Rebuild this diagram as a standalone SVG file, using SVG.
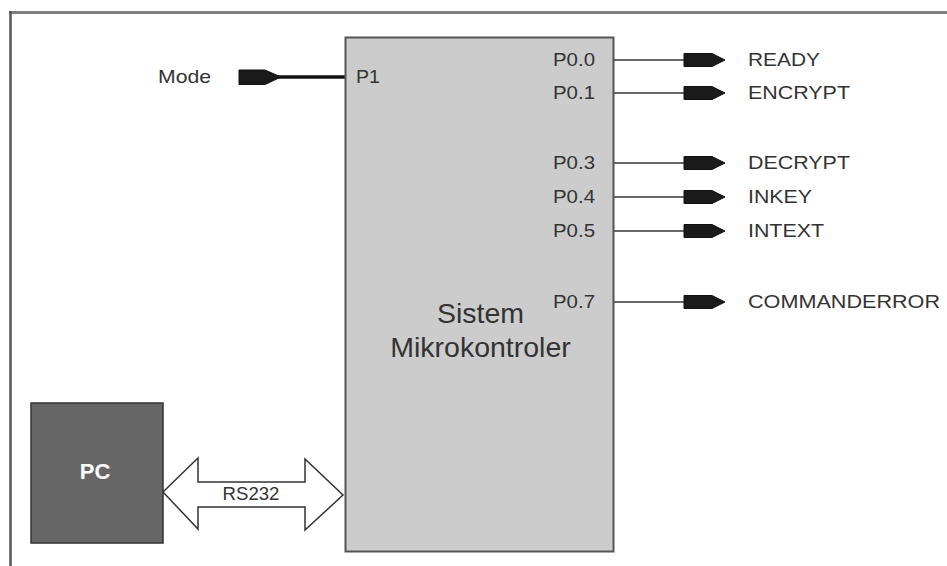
<svg xmlns="http://www.w3.org/2000/svg" width="947" height="566" viewBox="0 0 947 566">
<style>
text{font-family:"Liberation Sans",Arial,sans-serif;fill:#333;}
.pin{font-size:19px;}
.sig{font-size:19px;}
.wire{stroke:#333;stroke-width:1.5;fill:none;}
.tag{fill:#1a1a1a;stroke:#111;stroke-width:1;}
</style>
<defs>
<path id="tagR" d="M0,-6.5 H28 L41,0 L28,6.5 H0 Z"/>
</defs>
<rect width="947" height="566" fill="#fff"/>
<g id="frame">
<line x1="9" y1="12.5" x2="947" y2="12.5" stroke="#808080" stroke-width="3"/>
<line x1="10.5" y1="11" x2="10.5" y2="566" stroke="#555" stroke-width="2.5"/>
</g>
<g id="connectors">
<g id="mode-conn">
<line x1="278" y1="77" x2="346" y2="77" stroke="#111" stroke-width="3.5"/>
<path class="tag" d="M239,70 H265 L281,77 L265,84.5 H239 Z"/>
</g>
<g id="out-ready"><line class="wire" x1="614" y1="60" x2="684" y2="60"/><use href="#tagR" class="tag" x="684" y="60"/></g>
<g id="out-encrypt"><line class="wire" x1="614" y1="93" x2="684" y2="93"/><use href="#tagR" class="tag" x="684" y="93"/></g>
<g id="out-decrypt"><line class="wire" x1="614" y1="163" x2="684" y2="163"/><use href="#tagR" class="tag" x="684" y="163"/></g>
<g id="out-inkey"><line class="wire" x1="614" y1="197" x2="684" y2="197"/><use href="#tagR" class="tag" x="684" y="197"/></g>
<g id="out-intext"><line class="wire" x1="614" y1="231" x2="684" y2="231"/><use href="#tagR" class="tag" x="684" y="231"/></g>
<g id="out-commanderror"><line class="wire" x1="614" y1="302" x2="684" y2="302"/><use href="#tagR" class="tag" x="684" y="302"/></g>
<g id="rs232">
<path d="M163,492 L198,458 V482 H305 V459 L343,495 L305,530 V507 H198 V529 Z" fill="#fff" stroke="#333" stroke-width="1.5" stroke-linejoin="miter"/>
<text x="251" y="500" font-size="19" text-anchor="middle" textLength="57" lengthAdjust="spacingAndGlyphs">RS232</text>
</g>
</g>
<g id="mcu">
<rect x="345.5" y="37.5" width="268" height="514" fill="#cccccc" stroke="#555" stroke-width="2"/>
<text x="356" y="83" class="pin" textLength="24" lengthAdjust="spacingAndGlyphs">P1</text>
<text x="553" y="66" class="pin" textLength="42" lengthAdjust="spacingAndGlyphs">P0.0</text>
<text x="553" y="99" class="pin" textLength="42" lengthAdjust="spacingAndGlyphs">P0.1</text>
<text x="553" y="169" class="pin" textLength="42" lengthAdjust="spacingAndGlyphs">P0.3</text>
<text x="553" y="203" class="pin" textLength="42" lengthAdjust="spacingAndGlyphs">P0.4</text>
<text x="553" y="237" class="pin" textLength="42" lengthAdjust="spacingAndGlyphs">P0.5</text>
<text x="553" y="308" class="pin" textLength="42" lengthAdjust="spacingAndGlyphs">P0.7</text>
<text x="480.5" y="323" font-size="28.5" text-anchor="middle">Sistem</text>
<text x="480.5" y="357" font-size="28.5" text-anchor="middle">Mikrokontroler</text>
</g>
<g id="mode"><text x="158" y="83" class="sig" textLength="53" lengthAdjust="spacingAndGlyphs">Mode</text></g>
<g id="labels">
<text x="748" y="66" class="sig" textLength="72" lengthAdjust="spacingAndGlyphs">READY</text>
<text x="748" y="99" class="sig" textLength="102" lengthAdjust="spacingAndGlyphs">ENCRYPT</text>
<text x="748" y="169" class="sig" textLength="102" lengthAdjust="spacingAndGlyphs">DECRYPT</text>
<text x="748" y="203" class="sig" textLength="64" lengthAdjust="spacingAndGlyphs">INKEY</text>
<text x="748" y="237" class="sig" textLength="76" lengthAdjust="spacingAndGlyphs">INTEXT</text>
<text x="748" y="308" class="sig" textLength="192" lengthAdjust="spacingAndGlyphs">COMMANDERROR</text>
</g>
<g id="pc">
<rect x="31" y="403" width="132" height="140" fill="#666" stroke="#333" stroke-width="1.5"/>
<text x="95" y="479" font-size="22" font-weight="bold" text-anchor="middle" style="fill:#fff">PC</text>
</g>
</svg>
